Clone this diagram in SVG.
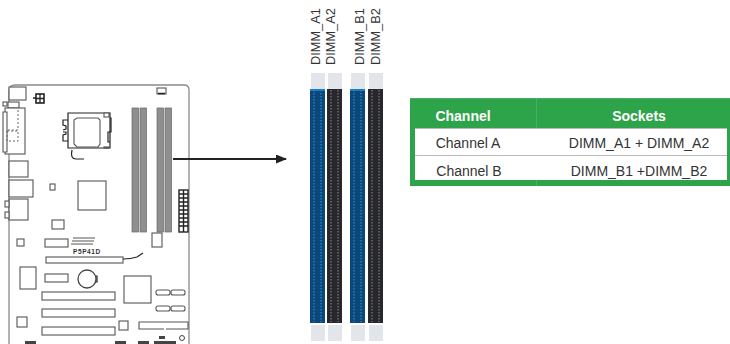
<svg xmlns="http://www.w3.org/2000/svg" width="730" height="344" viewBox="0 0 730 344">
<defs>
<style>
text{font-family:"Liberation Sans",Arial,sans-serif;fill:#333}
.o{fill:#fff;stroke:#555;stroke-width:1.1}
.k{fill:none;stroke:#222;stroke-width:1.2}
.slot{fill:#8f8f8f;stroke:#666;stroke-width:.7}
.lab{font-size:12.8px}
.cell{font-size:14px;text-anchor:middle}
.hd{font-size:14px;font-weight:bold;fill:#fff;text-anchor:middle}
.clip{fill:#e2e5ea}
.blue{fill:#0d4679}
.black{fill:#26282d}
.top{fill:#1a7fc0}
.blueline{stroke:#1c80c0;stroke-width:1.6;stroke-dasharray:1.5 1.5;fill:none}
.blackline{stroke:#6d665c;stroke-width:1.6;stroke-dasharray:1.5 1.5;fill:none}
</style>
<marker id="ah" markerWidth="11" markerHeight="9" refX="10" refY="4.500" orient="auto" markerUnits="userSpaceOnUse"><path d="M0 0L11 4.500L0 9z" fill="#222"/></marker>
</defs>
<g id="motherboard">
<path d="M9 344V91Q9 85 15 85H184Q189 85 189 90V344" fill="#fff" stroke="#8a8a8a" stroke-width="1.3"/>
<rect class="o" x="9" y="87" width="17" height="13"/>
<rect class="o" x="3" y="102" width="4" height="4"/>
<rect class="o" x="8" y="102" width="11" height="6"/>
<rect class="o" x="5" y="108" width="20" height="46"/>
<path d="M3 112h4v40h-4z" class="o"/>
<path d="M18 110v18M18 130h-12M7 131h11v10H7z" fill="none" stroke="#666" stroke-dasharray="2 2"/>
<rect class="o" x="9" y="161" width="19" height="16"/>
<rect class="o" x="9" y="180" width="24" height="17"/>
<rect class="o" x="9" y="199" width="19" height="21"/>
<rect class="o" x="5" y="201" width="4" height="6"/>
<rect class="o" x="5" y="212" width="4" height="6"/>
<rect x="36" y="94" width="8" height="9" fill="#fff" stroke="#222" stroke-width="1.600"/>
<path d="M36 98.500h8M40 94v9M33 98h3" stroke="#222" stroke-width="1.300" fill="none"/>
<path class="k" d="M68 113H110V148H68z" stroke-width="1.4" fill="#fff"/>
<path class="o" d="M77 118H98L100 120V144L98 147H77L74 144V120z"/>
<path class="k" d="M68 120h-5v5l3 1v3l-3 1M68 141h-5v-6l3-1v-2h-3M72 150q-2 9 4 9h8"/>
<path class="k" d="M110 118h1v14h-3v10h2"/>
<rect class="o" x="104" y="113" width="5" height="4"/>
<rect class="o" x="104" y="147" width="5" height="1"/>
<rect class="o" x="157" y="88" width="9" height="6"/>
<path d="M158 93.500h7" stroke="#222" stroke-width="1.500"/>
<rect class="o" x="50" y="184" width="5" height="6"/>
<rect class="o" x="78" y="181" width="28" height="29"/>
<g id="dimm-slots">
<rect class="slot" x="132" y="108" width="6.500" height="124"/>
<rect class="slot" x="140" y="108" width="6.500" height="124"/>
<rect class="slot" x="157" y="108" width="6.500" height="124"/>
<rect class="slot" x="165" y="108" width="6.500" height="124"/>
</g>
<rect x="179" y="190" width="9" height="42" fill="#fff" stroke="#222" stroke-width="1.400"/>
<path d="M179 194h9M179 198h9M179 202h9M179 206h9M179 210h9M179 214h9M179 218h9M179 222h9M179 226h9M183.500 190v42" stroke="#222" stroke-width="1.400" fill="none"/>
<rect class="o" x="52" y="220" width="12" height="9"/>
<rect class="o" x="17" y="239" width="7" height="7"/>
<rect class="o" x="45" y="239" width="23" height="8"/>
<path d="M73 238h22M72 241h22M71 244h22" stroke="#555" stroke-width="1"/>
<text x="73" y="254" font-size="6.500" font-weight="bold" letter-spacing=".6">P5P41D</text>
<rect class="o" x="152" y="233" width="10" height="14"/>
<rect class="o" x="46" y="257" width="77" height="6"/>
<path class="k" d="M123 259q8 0 14-2l6-4" stroke-width="1"/>
<rect class="o" x="20" y="267" width="16" height="22"/>
<rect class="o" x="45" y="274" width="23" height="8"/>
<circle cx="87" cy="279" r="9" fill="#fff" stroke="#444" stroke-width="1.300"/>
<path d="M96 276h1v6h-1" class="k"/>
<rect class="o" x="124" y="276" width="27" height="27"/>
<rect class="o" x="42" y="292" width="73" height="8"/>
<rect class="o" x="42" y="309" width="73" height="8"/>
<rect class="o" x="42" y="327" width="73" height="8"/>
<rect class="o" x="156" y="290" width="14" height="5" rx="2"/>
<rect class="o" x="171" y="290" width="14" height="5" rx="2"/>
<rect class="o" x="156" y="306" width="14" height="5" rx="2"/>
<rect class="o" x="171" y="306" width="14" height="5" rx="2"/>
<rect class="o" x="17" y="317" width="10" height="10"/>
<rect class="o" x="119" y="321" width="9" height="9"/>
<path class="o" d="M139 322H188V329H139z"/>
<path d="M164 329h2" stroke="#fff" stroke-width="2"/>
<path d="M25 341h11v3H25zM41 343h10M115 341h11v3h-11zM138 341h11v3h-11zM154 341h22v3h-22zM159 336h6v3h-6z" fill="#444"/>
<circle cx="182" cy="338" r="2.500" fill="#fff" stroke="#444"/>
</g>
<g id="connectors">
<path d="M173 159H286" stroke="#222" stroke-width="1.800" fill="none" marker-end="url(#ah)"/>
</g>
<g id="dimm-a1">
<rect class="clip" x="311" y="73" width="14" height="16"/>
<rect class="blue" x="310" y="89" width="15" height="234"/>
<rect class="top" x="310" y="89" width="15" height="2"/>
<path class="blueline" d="M314 90V322M321 90V322"/>
<rect class="clip" x="311" y="325" width="14" height="16"/>
<text class="lab" transform="translate(320 65) rotate(-90)">DIMM_A1</text>
</g>
<g id="dimm-a2">
<rect class="clip" x="328" y="73" width="14" height="16"/>
<rect class="black" x="327" y="89" width="15" height="234"/>
<path class="blackline" d="M331 90V322M338 90V322"/>
<rect class="clip" x="328" y="325" width="14" height="16"/>
<text class="lab" transform="translate(335 65) rotate(-90)">DIMM_A2</text>
</g>
<g id="dimm-b1">
<rect class="clip" x="351" y="73" width="14" height="16"/>
<rect class="blue" x="350" y="89" width="15" height="234"/>
<rect class="top" x="350" y="89" width="15" height="2"/>
<path class="blueline" d="M354 90V322M361 90V322"/>
<rect class="clip" x="351" y="325" width="14" height="16"/>
<text class="lab" transform="translate(364 65) rotate(-90)">DIMM_B1</text>
</g>
<g id="dimm-b2">
<rect class="clip" x="369" y="73" width="14" height="16"/>
<rect class="black" x="368" y="89" width="15" height="234"/>
<path class="blackline" d="M372 90V322M379 90V322"/>
<rect class="clip" x="369" y="325" width="14" height="16"/>
<text class="lab" transform="translate(380 65) rotate(-90)">DIMM_B2</text>
</g>
<g id="channel-table">
<rect x="410" y="98" width="320" height="88" fill="#2ea44a"/>
<rect x="415" y="128" width="312" height="52" fill="#fff"/>
<path d="M415 128.500H727M415 155.500H727" stroke="#bbb" stroke-width="1.200"/>
<path d="M410 98.500H730M536.500 98V128M536.500 180V186" stroke="#5cb873" stroke-width=".6"/>
<text class="hd" x="463" y="121">Channel</text>
<text class="hd" x="639" y="121">Sockets</text>
<text class="cell" x="468" y="148">Channel A</text>
<text class="cell" x="639" y="148">DIMM_A1 + DIMM_A2</text>
<text class="cell" x="469" y="176">Channel B</text>
<text class="cell" x="639" y="176">DIMM_B1 +DIMM_B2</text>
</g>
</svg>
